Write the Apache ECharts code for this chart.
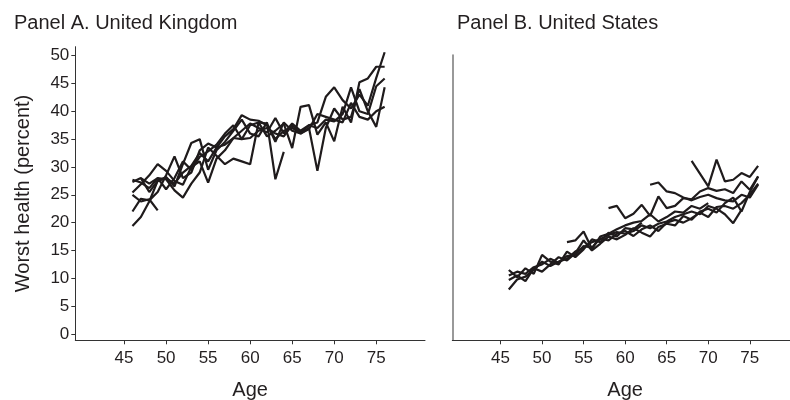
<!DOCTYPE html>
<html>
<head>
<meta charset="utf-8">
<script src="https://cdn.jsdelivr.net/npm/echarts@6/dist/echarts.min.js"></script>
<style>html,body{margin:0;padding:0;background:#fff;}#c{width:790px;height:400px;}</style>
</head>
<body>
<div id="c"></div>
<script>
// ---- data ----
const panelTitles = ['Panel A. United Kingdom', 'Panel B. United States'];
const xTickValues = [45, 50, 55, 60, 65, 70, 75];
const yTickValues = [0, 5, 10, 15, 20, 25, 30, 35, 40, 45, 50];
const xAxisName = 'Age';
const yAxisName = 'Worst health (percent)';

// United Kingdom lines: start age + values by consecutive age
const ukStarts = [46, 46, 46, 46, 46, 46, 47];
const uk1 = [19.4, 21.0, 23.8, 27.5, 28.0, 27.0, 29.0, 30.2, 32.5, 31.0, 33.5, 35.5, 36.8, 39.3, 38.5, 38.3, 37.5, 35.0, 36.5, 37.0, 36.2, 37.5, 38.0, 42.6, 44.3, 42.0, 40.5, 43.0, 41.0, 46.0, 50.6];
const uk2 = [22.0, 24.3, 24.0, 25.5, 28.5, 31.9, 28.0, 29.0, 33.0, 34.2, 33.5, 34.0, 35.2, 36.5, 37.8, 37.0, 36.2, 38.8, 36.0, 37.8, 36.5, 37.5, 37.0, 38.5, 38.2, 39.5, 44.3, 40.0, 39.5, 44.5, 45.9];
const uk3 = [25.4, 26.9, 28.5, 30.5, 29.3, 27.5, 26.8, 30.0, 31.0, 27.2, 31.5, 33.0, 35.2, 35.0, 37.5, 38.0, 35.5, 36.5, 37.8, 33.4, 40.8, 41.1, 35.8, 38.0, 34.6, 40.8, 38.0, 45.2, 45.9, 48.0, 48.0];
const uk4 = [27.7, 27.2, 26.2, 28.0, 27.8, 25.8, 24.5, 27.0, 29.0, 33.5, 32.0, 30.5, 31.5, 31.0, 30.5, 38.0, 37.8, 34.5, 38.0, 36.5, 36.0, 37.0, 29.3, 37.0, 40.5, 38.5, 39.0, 44.0, 40.0, 37.2, 44.3];
const uk5 = [27.3, 28.0, 25.5, 27.5, 28.2, 26.5, 30.5, 34.3, 35.0, 29.5, 33.0, 34.5, 36.5, 38.5, 36.0, 35.5, 38.0, 27.8, 32.7];
const uk6 = [25.0, 23.8, 24.2, 22.2];
const uk7 = [28.0, 27.0, 28.0, 26.0, 28.0, 31.0, 29.5, 31.8, 32.8, 34.0, 36.0, 37.5, 35.0, 35.2, 36.5, 37.0, 36.0, 35.5, 37.5, 36.0, 36.8, 39.5, 39.0, 38.5, 38.0, 41.5, 39.0, 38.5, 40.0, 40.8];

// United States lines
const usStarts = [46, 46, 46, 46, 53, 58, 63, 68];
const us1 = [8.0, 9.8, 10.3, 11.5, 13.0, 12.2, 13.0, 13.5, 14.8, 15.5, 16.5, 17.0, 17.8, 18.3, 18.0, 18.5, 19.5, 19.0, 19.8, 20.2, 21.0, 21.5, 22.0, 21.5, 23.0, 22.5, 21.5, 19.9, 22.3];
const us2 = [10.5, 11.2, 10.8, 12.0, 12.5, 13.5, 12.8, 14.0, 14.2, 15.8, 15.5, 17.2, 16.8, 18.0, 18.5, 17.6, 18.8, 19.5, 18.5, 20.0, 20.5, 20.0, 20.8, 21.8, 21.0, 22.8, 23.0, 22.5, 23.5, 25.0, 27.0];
const us3 = [9.7, 10.5, 9.5, 11.8, 11.2, 12.5, 13.8, 13.2, 14.5, 16.8, 15.0, 16.2, 17.5, 17.0, 17.8, 19.0, 18.2, 17.5, 19.2, 19.8, 19.5, 21.2, 20.5, 22.0, 22.5, 21.8, 23.5, 24.5, 22.0, 25.5, 28.3];
const us4 = [11.5, 10.2, 11.8, 10.8, 14.2, 13.0, 12.5, 14.8, 13.8, 15.2, 17.0, 16.5, 18.2, 17.5, 19.0, 18.8, 20.0];
const us5 = [16.5, 16.8, 18.4, 15.3, 17.5, 18.0, 18.8, 19.5, 20.0, 20.3, 21.5, 20.2, 21.0, 22.0, 21.8, 23.0, 22.5, 23.5];
const us6 = [22.6, 23.0, 20.8, 21.6, 23.2, 21.2, 24.7, 22.6, 23.0, 24.4, 24.2, 25.6, 26.2, 25.7, 26.0, 25.3, 27.4, 25.9, 28.3];
const us7 = [26.8, 27.2, 25.6, 25.3, 24.5, 24.0, 24.6, 25.0, 24.4, 24.0, 23.8, 25.0, 24.5, 26.8];
const us8 = [31.1, 28.8, 26.5, 31.3, 27.4, 27.7, 28.9, 28.2, 30.2];

const ukLines = [uk1, uk2, uk3, uk4, uk5, uk6, uk7];
const usLines = [us1, us2, us3, us4, us5, us6, us7, us8];

// ---- chart ----
const font = 'Liberation Sans, Arial, Helvetica, sans-serif';
const lineColor = '#1f1b1c';
function toPairs(start, vals) { return vals.map((v, i) => [start + i, v]); }

const series = [];
ukLines.forEach((vals, k) => series.push({
  type: 'line', xAxisIndex: 0, yAxisIndex: 0, showSymbol: false, symbol: 'none',
  lineStyle: { color: lineColor, width: 2.2 }, data: toPairs(ukStarts[k], vals)
}));
usLines.forEach((vals, k) => series.push({
  type: 'line', xAxisIndex: 1, yAxisIndex: 1, showSymbol: false, symbol: 'none',
  lineStyle: { color: lineColor, width: 2.2 }, data: toPairs(usStarts[k], vals)
}));

function xAxisDef(gridIndex) {
  return {
    type: 'value', gridIndex: gridIndex, min: 39.2, max: 80.8,
    name: xAxisName, nameLocation: 'middle', nameGap: 40,
    nameTextStyle: { fontFamily: font, fontSize: 20, color: '#231f20' },
    axisLine: { show: true, onZero: false, lineStyle: { color: '#333', width: 1 } },
    axisTick: { show: true, length: 4, customValues: xTickValues, lineStyle: { color: '#333' } },
    axisLabel: { customValues: xTickValues, fontFamily: font, fontSize: 17, color: '#231f20', margin: 10 },
    splitLine: { show: false }
  };
}

const option = {
  animation: false,
  backgroundColor: '#fff',
  title: [
    { text: panelTitles[0], left: 9, top: 8, textStyle: { fontFamily: font, fontSize: 20, fontWeight: 'normal', color: '#231f20' } },
    { text: panelTitles[1], left: 452, top: 8, textStyle: { fontFamily: font, fontSize: 20, fontWeight: 'normal', color: '#231f20' } }
  ],
  grid: [
    { left: 75.3, top: 46.7, width: 349.7, height: 293.6, containLabel: false, outerBoundsMode: 'none' },
    { left: 452.3, top: 55, width: 345.7, height: 285.3, containLabel: false, outerBoundsMode: 'none' }
  ],
  xAxis: [xAxisDef(0), xAxisDef(1)],
  yAxis: [
    {
      type: 'value', gridIndex: 0, min: -1.13, max: 51.6,
      name: yAxisName, nameLocation: 'middle', nameGap: 42, nameRotate: 90,
      nameTextStyle: { fontFamily: font, fontSize: 20, color: '#231f20' },
      axisLine: { show: true, lineStyle: { color: '#333', width: 1 } },
      axisTick: { show: true, length: 4, customValues: yTickValues, lineStyle: { color: '#333' } },
      axisLabel: { customValues: yTickValues, fontFamily: font, fontSize: 17, color: '#231f20', margin: 6 },
      splitLine: { show: false }
    },
    {
      type: 'value', gridIndex: 1, min: -1.13, max: 50.1,
      axisLine: { show: true, lineStyle: { color: '#777', width: 1.5 } },
      axisTick: { show: false },
      axisLabel: { show: false },
      splitLine: { show: false }
    }
  ],
  series: series
};

const chart = echarts.init(document.getElementById('c'), null, { renderer: 'canvas' });
chart.setOption(option);
</script>
</body>
</html>
